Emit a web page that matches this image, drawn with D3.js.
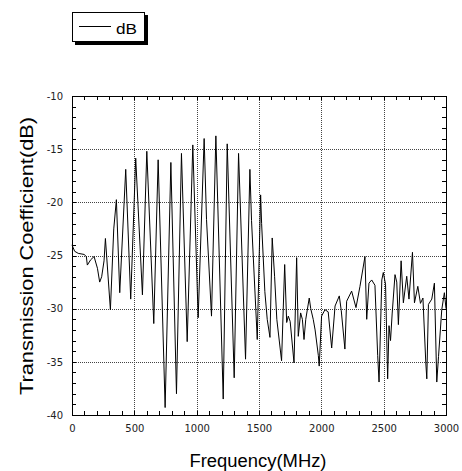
<!DOCTYPE html>
<html>
<head>
<meta charset="utf-8">
<script src="https://cdn.jsdelivr.net/npm/d3@7"></script>
<style>
  html, body { margin: 0; padding: 0; background: #fff; }
  svg { display: block; }
</style>
</head>
<body>
<div id="chart"></div>
<script>
// frequency (MHz) and transmission coefficient (dB)
const freqs = [
    0, 21, 50, 97, 115, 123, 150, 177, 204, 222, 238, 257, 268, 308, 335,
    356, 383, 431, 471, 511, 565, 600, 656, 691, 747, 793, 838, 878, 924,
    969, 1012, 1060, 1079, 1119, 1154, 1213, 1245, 1301, 1336, 1392, 1427, 1440, 1486,
    1513, 1521, 1547, 1566, 1588, 1606, 1625, 1643, 1681, 1706, 1722, 1735, 1750, 1781, 1802, 1815, 1834,
    1848, 1861, 1875, 1903, 1915, 1935, 1950, 1976, 1983, 2002, 2029, 2055,
    2083, 2110, 2144, 2160, 2189, 2203, 2243, 2278, 2310, 2350, 2364, 2382,
    2404, 2430, 2452, 2463, 2485, 2497, 2515, 2532, 2543, 2555, 2568, 2591,
    2605, 2618, 2640, 2658, 2685, 2703, 2731, 2747, 2774, 2795, 2815, 2838,
    2846, 2859, 2886, 2907, 2926, 2940, 2966, 2987, 3000
];
const dB = [
    -24.0, -24.6, -24.8, -24.9, -25.1, -25.9, -25.4, -25.1, -26.2, -27.5, -27.0, -25.5, -23.4, -30.1, -22.5,
    -19.75, -28.5, -16.9, -29.1, -15.85, -28.7, -15.2, -31.4, -16.0, -39.3, -16.25, -38.0, -15.4, -33.1,
    -14.6, -30.85, -14.0, -21.6, -30.7, -13.75, -38.5, -14.5, -36.5, -15.4, -34.75, -16.9, -21.7, -32.9,
    -19.3, -22.0, -28.4, -31.0, -32.7, -23.35, -26.95, -31.0, -34.9, -25.85, -31.3, -30.7, -31.2, -35.1, -25.2, -32.6, -30.4,
    -31.0, -32.9, -31.0, -29.0, -30.0, -31.0, -32.0, -34.4, -35.4, -30.7, -30.1, -30.3,
    -33.7, -29.75, -28.8, -30.2, -33.8, -29.3, -28.35, -29.9, -27.9, -25.1, -31.0, -27.6,
    -27.3, -27.8, -34.4, -36.9, -27.3, -26.6, -27.7, -36.6, -31.6, -33.0, -30.5, -26.8,
    -27.5, -31.5, -25.5, -29.45, -26.95, -29.1, -24.7, -29.45, -27.9, -29.5, -29.0, -35.1,
    -36.6, -29.6, -29.1, -27.6, -36.9, -34.5, -30.1, -28.5, -30.0
];

const xMajor = [0, 500, 1000, 1500, 2000, 2500, 3000];
const yMajor = [-40, -35, -30, -25, -20, -15, -10];
const seriesName = "dB";
const xTitle = "Frequency(MHz)";
const yTitle = "Transmission Coefficient(dB)";

const width = 462, height = 471;
const plotL = 72, plotR = 446, plotT = 96, plotB = 415;

const x = d3.scaleLinear().domain([0, 3000]).range([plotL, plotR]);
const y = d3.scaleLinear().domain([-40, -10]).range([plotB, plotT]);

const svg = d3.select("#chart")
    .append("svg")
    .attr("width", width)
    .attr("height", height);

// grid
const grid = svg.append("g")
    .attr("stroke", "#444")
    .attr("stroke-width", 1)
    .attr("stroke-dasharray", "1,1");

grid.selectAll(".gx")
    .data(xMajor.slice(1, -1))
    .enter()
    .append("line")
    .attr("x1", d => Math.round(x(d)) + 0.5)
    .attr("x2", d => Math.round(x(d)) + 0.5)
    .attr("y1", plotT)
    .attr("y2", plotB);

grid.selectAll(".gy")
    .data(yMajor.slice(1, -1))
    .enter()
    .append("line")
    .attr("x1", plotL)
    .attr("x2", plotR)
    .attr("y1", d => Math.round(y(d)) + 0.5)
    .attr("y2", d => Math.round(y(d)) + 0.5);

// minor ticks, inward on all four sides
const tickG = svg.append("g")
    .attr("stroke", "#000")
    .attr("stroke-width", 1);

const xMinor = x.ticks(30);
const yMinor = y.ticks(30);

xMinor.forEach(d => {
    const px = Math.round(x(d)) + 0.5;
    tickG.append("line").attr("x1", px).attr("x2", px).attr("y1", plotB).attr("y2", plotB - 4);
    tickG.append("line").attr("x1", px).attr("x2", px).attr("y1", plotT).attr("y2", plotT + 4);
});
yMinor.forEach(d => {
    const py = Math.round(y(d)) + 0.5;
    tickG.append("line").attr("x1", plotL).attr("x2", plotL + 4).attr("y1", py).attr("y2", py);
    tickG.append("line").attr("x1", plotR).attr("x2", plotR - 4).attr("y1", py).attr("y2", py);
});

// data line
const line = d3.line()
    .x((d, i) => x(freqs[i]))
    .y((d, i) => y(dB[i]));

svg.append("path")
    .datum(dB)
    .attr("d", line)
    .attr("fill", "none")
    .attr("stroke", "#000")
    .attr("stroke-width", 1)
    .attr("stroke-linejoin", "miter");

// frame
svg.append("rect")
    .attr("x", plotL + 0.5)
    .attr("y", plotT + 0.5)
    .attr("width", plotR - plotL)
    .attr("height", plotB - plotT)
    .attr("fill", "none")
    .attr("stroke", "#000")
    .attr("stroke-width", 1);

// tick labels
const xAxis = d3.axisBottom(x)
    .tickValues(xMajor)
    .tickSize(0)
    .tickPadding(10)
    .tickFormat(d => String(d));

const gx = svg.append("g")
    .attr("transform", `translate(0,${plotB})`)
    .call(xAxis);

const yAxis = d3.axisLeft(y)
    .tickValues(yMajor)
    .tickSize(0)
    .tickPadding(9)
    .tickFormat(d => String(d));

const gy = svg.append("g")
    .attr("transform", `translate(${plotL},0)`)
    .call(yAxis);

[gx, gy].forEach(g => {
    g.select(".domain").remove();
    g.selectAll("text")
        .attr("font-family", "'DejaVu Sans', sans-serif")
        .attr("font-size", "10px")
        .attr("fill", "#222");
});

// axis titles
svg.append("text")
    .attr("x", 258)
    .attr("y", 467)
    .attr("text-anchor", "middle")
    .attr("font-family", "'Liberation Sans Narrow', 'Liberation Sans', sans-serif")
    .attr("font-size", "18px")
    .attr("textLength", 137)
    .attr("lengthAdjust", "spacingAndGlyphs")
    .text(xTitle);

svg.append("text")
    .attr("transform", "translate(33,256) rotate(-90)")
    .attr("text-anchor", "middle")
    .attr("font-family", "'Liberation Sans Narrow', 'Liberation Sans', sans-serif")
    .attr("font-size", "18px")
    .attr("textLength", 278)
    .attr("lengthAdjust", "spacingAndGlyphs")
    .text(yTitle);

// legend with drop shadow
const legend = svg.append("g").attr("class", "legend");

legend.append("rect")
    .attr("x", 75)
    .attr("y", 15)
    .attr("width", 73)
    .attr("height", 30)
    .attr("fill", "#000");

legend.append("rect")
    .attr("x", 72.5)
    .attr("y", 12.5)
    .attr("width", 72)
    .attr("height", 29)
    .attr("fill", "#fff")
    .attr("stroke", "#000")
    .attr("stroke-width", 1);

legend.append("line")
    .attr("x1", 79)
    .attr("x2", 111)
    .attr("y1", 26.5)
    .attr("y2", 26.5)
    .attr("stroke", "#000")
    .attr("stroke-width", 1);

legend.append("text")
    .attr("x", 116)
    .attr("y", 33.5)
    .attr("font-family", "'Liberation Sans Narrow', 'Liberation Sans', sans-serif")
    .attr("font-size", "15px")
    .attr("textLength", 21)
    .attr("lengthAdjust", "spacingAndGlyphs")
    .text(seriesName);
</script>
</body>
</html>
